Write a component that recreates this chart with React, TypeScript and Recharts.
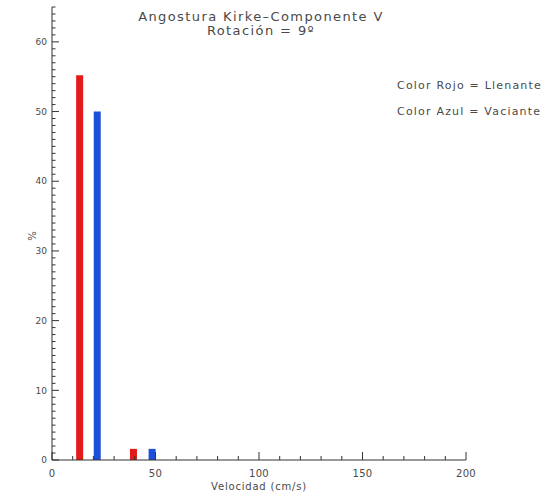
import React from 'react';
import { ComposedChart, Bar, XAxis, YAxis } from 'recharts';

// Data
const binCenters = [13.5, 22, 39.5, 48.5];
const rojo = [55.2, null, 1.6, null];
const azul = [null, 50.0, null, 1.6];

const xMajorTicks = [0, 50, 100, 150, 200];
const xTicks = [0, 10, 20, 30, 40, 50, 60, 70, 80, 90, 100, 110, 120, 130, 140, 150, 160, 170, 180, 190, 200];
const yMajorTicks = [0, 10, 20, 30, 40, 50, 60];
const yTicks = [
  0, 1, 2, 3, 4, 5, 6, 7, 8, 9, 10, 11, 12, 13, 14, 15, 16, 17, 18, 19, 20,
  21, 22, 23, 24, 25, 26, 27, 28, 29, 30, 31, 32, 33, 34, 35, 36, 37, 38, 39, 40,
  41, 42, 43, 44, 45, 46, 47, 48, 49, 50, 51, 52, 53, 54, 55, 56, 57, 58, 59, 60,
  61, 62, 63, 64, 65,
];

const titleLine1 = 'Angostura Kirke\u2013Componente V';
const titleLine2 = 'Rotaci\u00f3n = 9\u00ba';
const legendLines = ['Color Rojo = Llenante', 'Color Azul = Vaciante'];
const xLabel = 'Velocidad (cm/s)';
const yLabel = '%';

const data = binCenters.map((v, i) => ({ v, rojo: rojo[i], azul: azul[i] }));

const FONT = '"DejaVu Sans", sans-serif';
const TXT = '#4a4a4a';
const AX = '#333';
const X_MARGIN = 10;
const Y_MARGIN = 5;

const XTick = (props: any) => {
  const { x, y, payload } = props;
  const v = payload.value;
  const major = xMajorTicks.includes(v);
  const axisY = y - X_MARGIN;
  return (
    <g>
      <line x1={x} x2={x} y1={axisY} y2={axisY - (major ? 8 : 4)} stroke={AX} strokeWidth={1} />
      {major && (
        <text x={x} y={y} dy="0.71em" textAnchor="middle" fontSize={10} fill={TXT} fontFamily={FONT} letterSpacing={0.3}>
          {v}
        </text>
      )}
    </g>
  );
};

const YTick = (props: any) => {
  const { x, y, payload } = props;
  const v = payload.value;
  const major = yMajorTicks.includes(v);
  const axisX = x + Y_MARGIN;
  return (
    <g>
      <line x1={axisX} x2={axisX + (major ? 7 : 3.5)} y1={y} y2={y} stroke={AX} strokeWidth={1} />
      {major && (
        <text x={x} y={y} dy="0.355em" textAnchor="end" fontSize={9} fill={TXT} fontFamily={FONT}>
          {v}
        </text>
      )}
    </g>
  );
};

export default function App() {
  return (
    <div style={{ position: 'absolute', left: 0, top: 0, width: 552, height: 500, background: '#fff', fontFamily: FONT }}>
      <ComposedChart
        width={552}
        height={500}
        data={data}
        margin={{ top: 7, right: 86, bottom: 0, left: 22 }}
      >
        <XAxis
          dataKey="v"
          type="number"
          domain={[0, 200]}
          ticks={xTicks}
          interval={0}
          tickSize={0}
          tickMargin={X_MARGIN}
          tick={<XTick />}
          tickLine={false}
          axisLine={{ stroke: AX, strokeWidth: 1 }}
          height={40}
          allowDataOverflow
        />
        <YAxis
          type="number"
          domain={[0, 65]}
          ticks={yTicks}
          interval={0}
          tickSize={0}
          tickMargin={Y_MARGIN}
          tick={<YTick />}
          tickLine={false}
          axisLine={{ stroke: AX, strokeWidth: 1 }}
          width={30}
          allowDataOverflow
        />
        <Bar dataKey="rojo" stackId="a" fill="#e31b1b" barSize={7} isAnimationActive={false} />
        <Bar dataKey="azul" stackId="a" fill="#1d4fd8" barSize={7} isAnimationActive={false} />
      </ComposedChart>
      <div style={{ position: 'absolute', left: 56, width: 410, top: 10, textAlign: 'center', fontSize: 13, lineHeight: '14px', color: TXT, letterSpacing: 1.4 }}>
        <div>{titleLine1}</div>
        <div>{titleLine2}</div>
      </div>
      <div style={{ position: 'absolute', left: 397, top: 73, fontSize: 11, color: TXT, letterSpacing: 1.2, lineHeight: '26px', whiteSpace: 'nowrap' }}>
        {legendLines.map((l) => (
          <div key={l}>{l}</div>
        ))}
      </div>
      <div style={{ position: 'absolute', left: 52, width: 414, top: 481, textAlign: 'center', fontSize: 10, color: TXT, letterSpacing: 0.8 }}>
        {xLabel}
      </div>
      <div style={{ position: 'absolute', left: 26, top: 229, width: 14, height: 14, fontSize: 10, color: TXT, transform: 'rotate(-90deg)', textAlign: 'center', lineHeight: '14px' }}>
        {yLabel}
      </div>
    </div>
  );
}
